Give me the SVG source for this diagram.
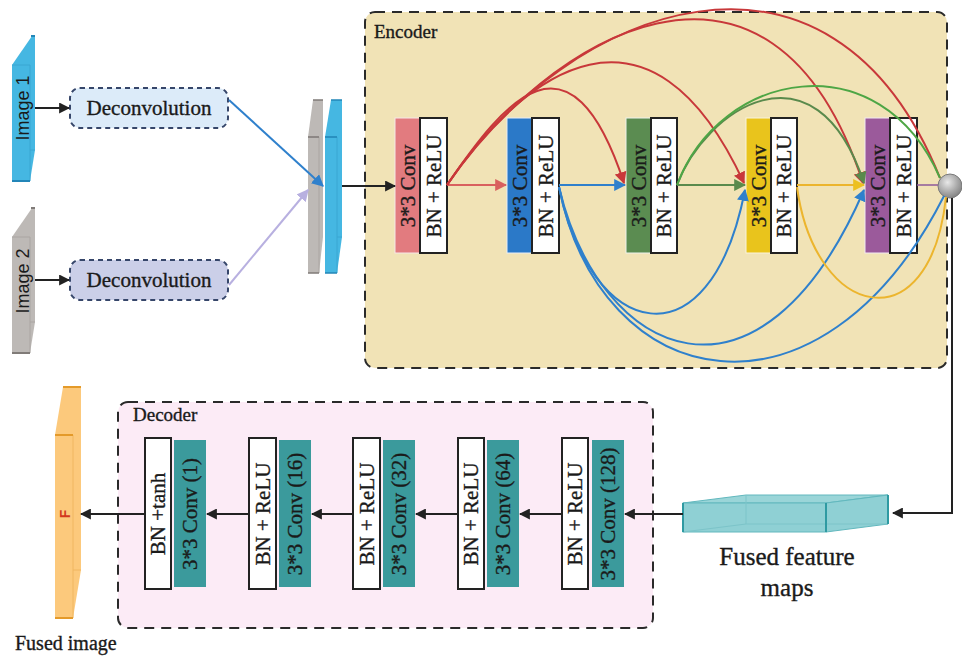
<svg xmlns="http://www.w3.org/2000/svg" width="962" height="656" viewBox="0 0 962 656">
<defs>
<style>
.serif{font-family:"Liberation Serif","DejaVu Serif",serif;fill:#1a1a1a;stroke:#1a1a1a;stroke-width:0.35}
.sans{font-family:"Liberation Sans","DejaVu Sans",sans-serif;fill:#1a1a1a}
.blk{font-size:21px;text-anchor:middle;dominant-baseline:central}
.bn{fill:#fff;stroke:#222;stroke-width:2}
.wire{fill:none;stroke-width:2}
.k{stroke:#222}
.r{stroke:#c8383a}
.rl{stroke:#d9605e}
.g{stroke:#4ea645}
.gd{stroke:#5a8a4c}
.b{stroke:#2f80cc}
.y{stroke:#ecb52e}
</style>
<marker id="ak" viewBox="0 0 10 10" refX="9" refY="5" markerWidth="11" markerHeight="11" markerUnits="userSpaceOnUse" orient="auto"><path d="M0,0 L10,5 L0,10 z" fill="#222"/></marker>
<marker id="ar" viewBox="0 0 10 10" refX="9" refY="5" markerWidth="12" markerHeight="12" markerUnits="userSpaceOnUse" orient="auto"><path d="M0,0 L10,5 L0,10 z" fill="#c8383a"/></marker>
<marker id="arl" viewBox="0 0 10 10" refX="9" refY="5" markerWidth="12" markerHeight="12" markerUnits="userSpaceOnUse" orient="auto"><path d="M0,0 L10,5 L0,10 z" fill="#d9605e"/></marker>
<marker id="ag" viewBox="0 0 10 10" refX="9" refY="5" markerWidth="12" markerHeight="12" markerUnits="userSpaceOnUse" orient="auto"><path d="M0,0 L10,5 L0,10 z" fill="#5a8a4c"/></marker>
<marker id="ab" viewBox="0 0 10 10" refX="9" refY="5" markerWidth="12" markerHeight="12" markerUnits="userSpaceOnUse" orient="auto"><path d="M0,0 L10,5 L0,10 z" fill="#2f80cc"/></marker>
<marker id="ay" viewBox="0 0 10 10" refX="9" refY="5" markerWidth="12" markerHeight="12" markerUnits="userSpaceOnUse" orient="auto"><path d="M0,0 L10,5 L0,10 z" fill="#ecc020"/></marker>
<marker id="al" viewBox="0 0 10 10" refX="9" refY="5" markerWidth="12" markerHeight="12" markerUnits="userSpaceOnUse" orient="auto"><path d="M0,0 L10,5 L0,10 z" fill="#b8b0e0"/></marker>
<radialGradient id="sph" cx="0.4" cy="0.35" r="0.7"><stop offset="0" stop-color="#e8e8e8"/><stop offset="0.6" stop-color="#a8a8a8"/><stop offset="1" stop-color="#808080"/></radialGradient>
</defs>
<rect width="962" height="656" fill="#fff"/>

<!-- containers -->
<g id="encoder">
<rect x="365" y="12" width="582" height="356" rx="10" fill="#f1e3b6" stroke="#2a2a2a" stroke-width="2" stroke-dasharray="10 7"/>
<text class="serif" x="374" y="38" font-size="19">Encoder</text>
</g>
<g id="decoder">
<rect x="118" y="402" width="535" height="226" rx="10" fill="#fcebf6" stroke="#2a2a2a" stroke-width="2" stroke-dasharray="10 7"/>
<text class="serif" x="133" y="421" font-size="19">Decoder</text>
</g>

<!-- input images -->
<g id="image1">
<polygon points="12,65 32,36 35,36 35,150 30,181 12,181" fill="#45b7e2"/>
<path d="M12,65 H30 V181 M30,150 L35,150" stroke="#3aa6d2" stroke-width="1" fill="none"/>
<path d="M31,36 H35 M12,181 H30" stroke="#2386b8" stroke-width="2"/>
<text class="sans" transform="translate(23,108) rotate(-90)" font-size="18" text-anchor="middle" dominant-baseline="central">Image 1</text>
</g>
<g id="image2">
<polygon points="12,237 32,208 35,208 35,322 30,353 12,353" fill="#bdb9b6"/>
<path d="M12,237 H30 V353 M30,322 L35,322" stroke="#aaa5a2" stroke-width="1" fill="none"/>
<path d="M31,208 H35 M12,353 H30" stroke="#807b78" stroke-width="2"/>
<text class="sans" transform="translate(23,281) rotate(-90)" font-size="18" text-anchor="middle" dominant-baseline="central">Image 2</text>
</g>

<g id="deconv1">
<rect x="70" y="88" width="158" height="40" rx="10" fill="#dcebf9" stroke="#36466a" stroke-width="2" stroke-dasharray="5 4"/>
<text class="serif" x="149" y="108" font-size="21" text-anchor="middle" dominant-baseline="central">Deconvolution</text>
</g>
<g id="deconv2">
<rect x="70" y="260" width="158" height="40" rx="10" fill="#cbcfe8" stroke="#36466a" stroke-width="2" stroke-dasharray="5 4"/>
<text class="serif" x="149" y="280" font-size="21" text-anchor="middle" dominant-baseline="central">Deconvolution</text>
</g>

<g id="concat">
<polygon points="308,137 313,100 323,100 323,237 319,273 308,273" fill="#bdb9b6"/>
<path d="M308,137 H319 V273" stroke="#aaa5a2" stroke-width="1" fill="none"/>
<path d="M313,100 H323 M308,137 H319 M308,273 H319" stroke="#807b78" stroke-width="1.5"/>
<polygon points="325,137 331,100 342,100 342,237 337,273 325,273" fill="#45b7e2"/>
<path d="M325,137 H337 V273 M337,237 H342" stroke="#3aa6d2" stroke-width="1" fill="none"/>
<path d="M331,100 H342 M325,137 H337 M325,273 H337" stroke="#2386b8" stroke-width="1.5"/>
</g>

<!-- encoder blocks -->
<g id="enc1">
<rect x="395" y="118" width="25" height="135" fill="#e27b7f" stroke="#f6e8e8" stroke-width="1"/>
<rect class="bn" x="420" y="118" width="27" height="135"/>
<text class="serif blk" transform="translate(408,186) rotate(-90)">3*3 Conv</text>
<text class="serif blk" transform="translate(434,186) rotate(-90)">BN + ReLU</text>
</g>
<g id="enc2">
<rect x="507" y="118" width="25" height="135" fill="#2b79c8" stroke="#e8eef6" stroke-width="1"/>
<rect class="bn" x="532" y="118" width="27" height="135"/>
<text class="serif blk" transform="translate(520,186) rotate(-90)">3*3 Conv</text>
<text class="serif blk" transform="translate(546,186) rotate(-90)">BN + ReLU</text>
</g>
<g id="enc3">
<rect x="626" y="118" width="25" height="135" fill="#5b8c51" stroke="#eef2ec" stroke-width="1"/>
<rect class="bn" x="651" y="118" width="26" height="135"/>
<text class="serif blk" transform="translate(639,186) rotate(-90)">3*3 Conv</text>
<text class="serif blk" transform="translate(664,186) rotate(-90)">BN + ReLU</text>
</g>
<g id="enc4">
<rect x="746" y="118" width="25" height="135" fill="#e9c41c" stroke="#faf3dc" stroke-width="1"/>
<rect class="bn" x="771" y="118" width="26" height="135"/>
<text class="serif blk" transform="translate(759,186) rotate(-90)">3*3 Conv</text>
<text class="serif blk" transform="translate(784,186) rotate(-90)">BN + ReLU</text>
</g>
<g id="enc5">
<rect x="865" y="118" width="25" height="135" fill="#9b5a9b" stroke="#f2eaf2" stroke-width="1"/>
<rect class="bn" x="890" y="118" width="27" height="135"/>
<text class="serif blk" transform="translate(878,186) rotate(-90)">3*3 Conv</text>
<text class="serif blk" transform="translate(904,186) rotate(-90)">BN + ReLU</text>
</g>

<!-- fused feature maps -->
<g id="fused-maps">
<polygon points="683,503 746,495 888,495 826,503" fill="#9ad5d8" stroke="#62b8be" stroke-width="1"/>
<rect x="683" y="503" width="143" height="29" fill="#8fd0d4" stroke="#62b8be" stroke-width="1"/>
<polygon points="826,503 888,495 888,524 826,532" fill="#8fd0d4" stroke="#62b8be" stroke-width="1"/>
<path d="M746,495 V524 H888 M746,524 L683,532" stroke="#7cc4c9" stroke-width="1" fill="none"/>
<path d="M683,503 V532 M826,503 V532 M888,495 V524" stroke="#2f9aa2" stroke-width="2"/>
<text class="serif" x="787" y="565" font-size="25" text-anchor="middle">Fused feature</text>
<text class="serif" x="787" y="596" font-size="25" text-anchor="middle">maps</text>
</g>

<!-- decoder blocks -->
<g id="dec5">
<rect class="bn" x="562" y="438" width="26" height="151"/>
<rect x="592" y="440" width="32" height="147" fill="#3b9a9c"/>
<text class="serif blk" transform="translate(575,514) rotate(-90)">BN + ReLU</text>
<text class="serif blk" transform="translate(608,514) rotate(-90)">3*3 Conv (128)</text>
</g>
<g id="dec4">
<rect class="bn" x="458" y="438" width="26" height="151"/>
<rect x="487" y="440" width="32" height="147" fill="#3b9a9c"/>
<text class="serif blk" transform="translate(471,514) rotate(-90)">BN + ReLU</text>
<text class="serif blk" transform="translate(503,514) rotate(-90)">3*3 Conv (64)</text>
</g>
<g id="dec3">
<rect class="bn" x="353" y="438" width="27" height="151"/>
<rect x="383" y="440" width="32" height="147" fill="#3b9a9c"/>
<text class="serif blk" transform="translate(367,514) rotate(-90)">BN + ReLU</text>
<text class="serif blk" transform="translate(399,514) rotate(-90)">3*3 Conv (32)</text>
</g>
<g id="dec2">
<rect class="bn" x="249" y="438" width="27" height="151"/>
<rect x="279" y="440" width="32" height="147" fill="#3b9a9c"/>
<text class="serif blk" transform="translate(263,514) rotate(-90)">BN + ReLU</text>
<text class="serif blk" transform="translate(295,514) rotate(-90)">3*3 Conv (16)</text>
</g>
<g id="dec1">
<rect class="bn" x="145" y="438" width="26" height="151"/>
<rect x="174" y="440" width="32" height="147" fill="#3b9a9c"/>
<text class="serif blk" transform="translate(158,514) rotate(-90)">BN +tanh</text>
<text class="serif blk" transform="translate(190,514) rotate(-90)">3*3 Conv (1)</text>
</g>

<g id="fused-image">
<polygon points="55,435 63,387 81,387 81,570 73,618 55,618" fill="#fcc97c"/>
<path d="M73,435 V618 M73,570 H81" stroke="#f0b660" stroke-width="1" fill="none"/>
<path d="M63,387 H81 M55,435 H73 M55,618 H73" stroke="#e49a2a" stroke-width="2"/>
<text transform="translate(65,514) rotate(-90)" font-family="Liberation Sans, DejaVu Sans, sans-serif" font-weight="bold" font-size="14" fill="#d2381e" text-anchor="middle" dominant-baseline="central">F</text>
<text class="serif" x="15" y="650" font-size="20">Fused image</text>
</g>

<g id="sphere">
<circle cx="950" cy="186" r="12" fill="url(#sph)" stroke="#7a7a7a" stroke-width="1"/>
</g>

<!-- connectors -->
<g id="connectors">
<path class="wire k" d="M35,108 H69" marker-end="url(#ak)"/>
<path class="wire k" d="M35,280 H69" marker-end="url(#ak)"/>
<path class="wire" stroke="#2f80cc" d="M229,100 L323,186" marker-end="url(#ab)"/>
<path class="wire" stroke="#b8b0e0" d="M229,285 L308,190" marker-end="url(#al)"/>
<path class="wire k" d="M342,186 H395" marker-end="url(#ak)"/>

<!-- red skips -->
<path class="wire rl" d="M447,185 H506" marker-end="url(#arl)"/>
<path class="wire r" d="M447,185 C505,100 570,20 624,183" marker-end="url(#ar)"/>
<path class="wire r" d="M447,185 C525,70 650,-20 744,183" marker-end="url(#ar)"/>
<path class="wire r" d="M447,185 C545,40 770,-100 863,183" marker-end="url(#ar)"/>
<path class="wire r" d="M447,185 C570,5 830,-95 940,178"/>

<!-- blue skips -->
<path class="wire b" d="M559,185 H625" marker-end="url(#ab)"/>
<path class="wire b" d="M559,187 C590,340 710,370 745,190" marker-end="url(#ab)"/>
<path class="wire b" d="M559,187 C600,360 760,430 864,190" marker-end="url(#ab)"/>
<path class="wire b" d="M559,187 C600,395 820,440 944,196"/>

<!-- green skips -->
<path class="wire gd" d="M677,185 H745" marker-end="url(#ag)"/>
<path class="wire gd" d="M677,185 C705,110 815,35 864,183" marker-end="url(#ag)"/>
<path class="wire g" d="M677,185 C720,70 880,40 940,178"/>

<!-- yellow -->
<path class="wire y" d="M797,185 H864" marker-end="url(#ay)"/>
<path class="wire y" d="M797,187 C815,320 930,345 946,197"/>

<!-- purple -->
<path d="M917,185 H938" stroke="#8d5a9a" stroke-width="1.5"/>

<!-- to decoder -->
<path class="wire k" d="M952,198 V513 H893" marker-end="url(#ak)"/>
<path class="wire k" d="M683,514 H625" marker-end="url(#ak)"/>
<path class="wire k" d="M562,514 H520" marker-end="url(#ak)"/>
<path class="wire k" d="M458,514 H416" marker-end="url(#ak)"/>
<path class="wire k" d="M353,514 H312" marker-end="url(#ak)"/>
<path class="wire k" d="M249,514 H207" marker-end="url(#ak)"/>
<path class="wire k" d="M145,514 H81" marker-end="url(#ak)"/>
</g>
</svg>
